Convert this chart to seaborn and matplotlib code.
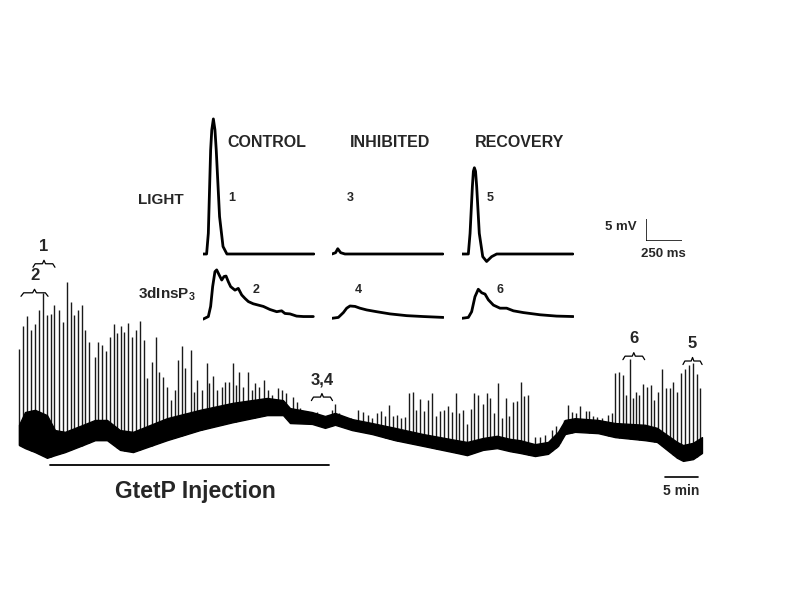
import numpy as np
import matplotlib
matplotlib.use('Agg')
import matplotlib.pyplot as plt
import seaborn as sns

sns.set_style('white')
plt.rcParams['font.family'] = ['Liberation Sans', 'DejaVu Sans']
plt.rcParams['mathtext.fontset'] = 'custom'
plt.rcParams['mathtext.bf'] = 'Liberation Sans:bold'
plt.rcParams['mathtext.rm'] = 'Liberation Sans:bold'
plt.rcParams['mathtext.default'] = 'bf'

# ---- long recording: spikes (time in min, peak in mV) ----
spike_t = [0.05, 0.65, 1.26, 1.86, 2.47, 3.08, 3.68, 4.20, 4.80, 5.35, 6.02, 6.62, 7.27, 7.83, 8.38, 8.89,
           9.50, 10.05, 10.61, 11.47, 12.02, 12.58, 13.14, 13.74, 14.35, 14.85, 15.41, 15.95, 16.56, 17.12,
           17.73, 18.38, 18.94, 19.44, 20.11, 20.71, 21.21, 21.86, 22.38, 23.03, 23.64, 24.14, 24.65, 25.15,
           26.02, 26.52, 27.02, 27.68, 28.44, 28.83, 29.44, 30.05, 30.71, 31.21, 31.86, 32.38, 32.88, 33.38,
           33.98, 34.74, 35.26, 35.76, 36.41, 37.12, 37.77, 38.29, 39.20, 39.80, 40.41, 41.56, 42.17, 42.58,
           45.11, 47.38, 47.88, 48.48, 49.39, 50.30, 51.41, 52.17, 52.92, 53.53, 54.20, 54.85, 55.45, 56.06,
           56.71, 57.32, 57.88, 58.48, 59.09, 59.65, 60.15, 60.76, 61.36, 61.92, 62.53, 63.14, 63.79, 64.39,
           64.95, 65.56, 66.17, 66.67, 67.23, 67.83, 68.44, 68.98, 69.59, 70.26, 70.86, 71.36, 71.97, 72.53,
           73.14, 73.74, 74.29, 74.80, 75.41, 76.02, 76.56, 77.17, 78.18, 78.94, 79.70, 80.71, 81.36, 81.97,
           82.62, 83.23, 83.74, 84.35, 85.00, 85.86, 86.41, 87.02, 87.53, 88.38, 89.29, 89.80, 90.30, 90.91,
           91.47, 91.92, 92.58, 93.08, 93.48, 93.94, 94.59, 95.11, 95.71, 96.21, 96.86, 97.38, 97.98, 98.64,
           99.14, 99.74, 100.35, 100.95, 101.52, 102.08, 102.68, 103.18]
spike_v = [25.2, 30.5, 32.7, 29.5, 30.9, 34.1, 38.0, 33.0, 33.2, 35.2, 34.1, 31.4, 40.5, 35.8, 33.0, 34.1,
           35.2, 29.5, 26.9, 23.4, 26.9, 26.1, 24.8, 28.0, 30.8, 28.8, 30.5, 29.2, 31.2, 27.9,
           29.5, 31.7, 27.3, 18.6, 22.3, 28.0, 20.1, 18.9, 16.7, 13.6, 15.9, 22.7, 25.9, 20.9,
           25.0, 15.5, 18.2, 15.9, 22.1, 17.4, 19.1, 15.9, 16.7, 17.8, 17.8, 22.0, 17.0, 20.1,
           16.7, 19.9, 15.9, 17.6, 16.7, 18.2, 15.9, 14.8, 16.4, 15.9, 15.2, 14.3, 13.2, 11.8,
           10.9, 11.4, 12.7, 10.7, 9.5, 9.5, 11.4, 10.9, 10.2, 9.5, 10.7, 11.1, 10.0, 12.5,
           10.0, 10.2, 9.5, 9.8, 15.2, 15.5, 11.4, 13.9, 11.1, 13.6, 15.2, 10.0, 11.1, 11.4,
           12.3, 10.9, 15.2, 10.7, 11.4, 8.2, 11.6, 15.2, 14.8, 12.7, 15.2, 14.1, 10.7, 17.5,
           9.5, 14.1, 10.0, 13.2, 13.4, 17.7, 14.5, 14.8, 5.2, 5.2, 5.7, 6.8, 7.7, 6.8,
           9.1, 12.5, 10.9, 10.7, 12.3, 11.1, 11.1, 10.0, 9.8, 9.5, 10.2, 10.7, 19.8, 20.0,
           19.3, 14.8, 23.0, 14.1, 15.5, 14.8, 17.3, 16.6, 17.0, 13.6, 15.5, 20.7, 16.4, 16.4,
           17.7, 15.5, 19.8, 20.7, 21.6, 22.0, 19.5, 16.4]

# ---- long recording: noisy baseline band, lower / upper edge (min, mV) ----
base_t = [0, 0.91, 2.42, 4.24, 5.45, 6.97, 9.70, 11.52, 13.33, 15.30, 17.27, 22.42, 27.42, 32.42, 37.58,
          40.0, 41.06, 44.39, 46.36, 47.88, 50.45, 53.48, 56.97, 61.21, 66.36, 67.88, 70.30, 72.42, 74.39,
          75.91, 78.18, 80.15, 81.67, 82.73, 84.24, 87.73, 90.30, 94.85, 96.67, 98.18, 99.70, 100.61,
          102.12, 103.48]
band_lo = [3.4, 2.7, 1.8, 0.5, 1.1, 1.8, 3.4, 4.5, 4.5, 2.3, 1.8, 4.5, 6.8, 8.6, 10.2,
           10.2, 8.4, 8.2, 7.3, 8.0, 6.8, 5.9, 4.5, 3.2, 1.6, 1.1, 2.3, 2.7, 2.0,
           1.6, 0.9, 1.4, 3.2, 5.9, 6.4, 6.1, 5.2, 4.5, 4.1, 2.3, 0.5, -0.2,
           0.2, 1.6]
band_hi = [8.0, 10.9, 11.4, 10.2, 6.8, 6.4, 8.0, 9.1, 9.1, 6.8, 6.4, 9.5, 11.4, 13.0, 14.1,
           13.6, 11.8, 10.9, 10.0, 10.7, 9.3, 8.4, 7.3, 5.9, 4.5, 4.1, 5.0, 5.5, 4.8,
           4.5, 3.6, 4.1, 6.4, 9.1, 9.5, 9.1, 8.4, 8.0, 7.3, 5.7, 4.1, 3.4,
           3.9, 5.2]

# ---- inset traces (ms, mV) ----
light_ctrl_t = [0, 25, 37, 53, 61, 72, 83, 92, 115, 139, 166, 770]
light_ctrl_v = [0, 0, 4.7, 23.6, 28.2, 30.7, 28.2, 23.6, 8.5, 1.7, 0, 0]
light_inh_t = [0, 25, 40, 60, 90, 770]
light_inh_v = [0, 0.3, 1.2, 0.3, 0, 0]
light_rec_t = [0, 44, 56, 72, 79, 86, 94, 102, 120, 144, 171, 206, 241, 770]
light_rec_v = [0, 0, 4.7, 15.3, 18.8, 19.6, 18.8, 15.3, 4.7, -0.6, -1.7, -0.6, 0, 0]

ip3_ctrl_t = [0, 37, 53, 67, 83, 95, 113, 130, 146, 160, 176, 192, 222, 245, 269, 292, 315, 349, 384,
              419, 465, 512, 546, 569, 604, 650, 697, 766]
ip3_ctrl_v = [-0.2, 0.4, 2.7, 7.2, 10.6, 11.0, 9.8, 8.7, 9.5, 9.6, 8.3, 7.2, 6.4, 6.8, 5.3, 4.5, 3.8,
              3.3, 3.0, 2.7, 2.0, 1.5, 1.7, 1.1, 1.0, 0.5, 0.4, 0.4]
ip3_inh_t = [0, 44, 79, 102, 125, 160, 194, 241, 310, 403, 519, 634, 773]
ip3_inh_v = [0, 0.2, 1.3, 2.3, 2.8, 2.7, 2.3, 1.9, 1.5, 1.0, 0.6, 0.4, 0.2]
ip3_rec_t = [0, 44, 67, 90, 113, 137, 160, 183, 218, 264, 310, 357, 426, 542, 657, 773]
ip3_rec_v = [0, 0.2, 1.5, 4.9, 6.6, 5.8, 5.5, 4.2, 3.0, 2.3, 2.3, 1.7, 1.3, 0.8, 0.5, 0.4]

assert len(spike_t) == len(spike_v)
assert len(base_t) == len(band_lo) == len(band_hi)

W, H = 785, 606
T0_PX, PX_PER_MIN = 19, 6.6
V0_PX, PX_PER_MV = 460, 4.4
PX_PER_MS = 0.144


def fx(x):
    return x / W


def fy(y):
    return 1 - y / H


fig = plt.figure(figsize=(W / 100, H / 100), dpi=100)
fig.patch.set_facecolor('white')

# main recording axes spans the whole figure
ax = fig.add_axes([0, 0, 1, 1])
ax.set_xlim(-T0_PX / PX_PER_MIN, (W - T0_PX) / PX_PER_MIN)
ax.set_ylim((V0_PX - H) / PX_PER_MV, V0_PX / PX_PER_MV)
ax.axis('off')

foot = np.interp(spike_t, base_t, band_lo)
ax.vlines(spike_t, foot, spike_v, color='0.1', lw=1.0, zorder=1)
ax.fill_between(base_t, band_lo, band_hi, color='black', lw=1.0, zorder=2)


def brace(t0, t1, v, label):
    w = t1 - t0
    tm = (t0 + t1) / 2
    d = 0.8
    bx = [t0, t0 + 0.1 * w, tm - 0.07 * w, tm, tm + 0.07 * w, t1 - 0.1 * w, t1]
    by = [v - d, v, v, v + d, v, v, v - d]
    ax.plot(bx, by, color='black', lw=0.9)
    ax.text(tm, v + 2.2, label, ha='center', va='bottom', fontsize=12, fontweight='bold')


brace(2.12, 5.45, 44.6, '1')
brace(0.3, 4.4, 38.0, '2')
brace(44.3, 47.5, 14.3, '3,4')
brace(91.5, 94.8, 23.6, '6')
brace(100.6, 103.5, 22.5, '5')

# injection bar and time scale
ax.plot([4.7, 47.0], [-1.1, -1.1], color='black', lw=1.3)
ax.text(26.7, -7.2, 'GtetP Injection', ha='center', va='center', fontsize=16.5, fontweight='bold')
ax.plot([97.9, 102.9], [-3.9, -3.9], color='black', lw=1.2)
ax.text(100.4, -7.0, '5 min', ha='center', va='center', fontsize=10, fontweight='bold')

# inset traces
rows = {'light': (254, -5, 32), 'ip3': (318.3, -3, 12)}
traces = [
    (203, 'light', light_ctrl_t, light_ctrl_v),
    (332, 'light', light_inh_t, light_inh_v),
    (462, 'light', light_rec_t, light_rec_v),
    (203, 'ip3', ip3_ctrl_t, ip3_ctrl_v),
    (332, 'ip3', ip3_inh_t, ip3_inh_v),
    (462, 'ip3', ip3_rec_t, ip3_rec_v),
]
for left, row, tt, vv in traces:
    base_px, vmin, vmax = rows[row]
    bottom_px = base_px - vmin * PX_PER_MV
    height_px = (vmax - vmin) * PX_PER_MV
    iax = fig.add_axes([fx(left), fy(bottom_px), 780 * PX_PER_MS / W, height_px / H])
    iax.patch.set_alpha(0)
    sns.lineplot(x=tt, y=vv, ax=iax, color='black', lw=2.0, estimator=None, sort=False)
    iax.set_xlim(0, 780)
    iax.set_ylim(vmin, vmax)
    iax.axis('off')

# 5 mV / 250 ms scale bar
sax = fig.add_axes([fx(646), fy(241), 36 / W, 22 / H])
sax.patch.set_alpha(0)
sns.lineplot(x=[0, 0, 250], y=[5, 0, 0], ax=sax, color='black', lw=1.1, estimator=None, sort=False)
sax.set_xlim(0, 250)
sax.set_ylim(0, 5)
sax.axis('off')

# text labels
for s, x, y in [('CONTROL', 267, 142), ('INHIBITED', 390, 142), ('RECOVERY', 520, 142)]:
    fig.text(fx(x), fy(y), s, ha='center', va='center', fontsize=11.5, fontweight='bold')
for s, x, y in [('1', 232, 198), ('3', 350, 198), ('5', 490, 198),
                ('2', 256, 290), ('4', 358, 290), ('6', 500, 290)]:
    fig.text(fx(x), fy(y), s, ha='center', va='center', fontsize=9, fontweight='bold')
fig.text(fx(138), fy(200), 'LIGHT', ha='left', va='center', fontsize=11, fontweight='bold')
fig.text(fx(138), fy(294), '3dInsP$_3$', ha='left', va='center', fontsize=11, fontweight='bold')
fig.text(fx(637), fy(227), '5 mV', ha='right', va='center', fontsize=9.5, fontweight='bold')
fig.text(fx(663), fy(254), '250 ms', ha='center', va='center', fontsize=9.5, fontweight='bold')

fig.savefig('out.png', dpi=100)
